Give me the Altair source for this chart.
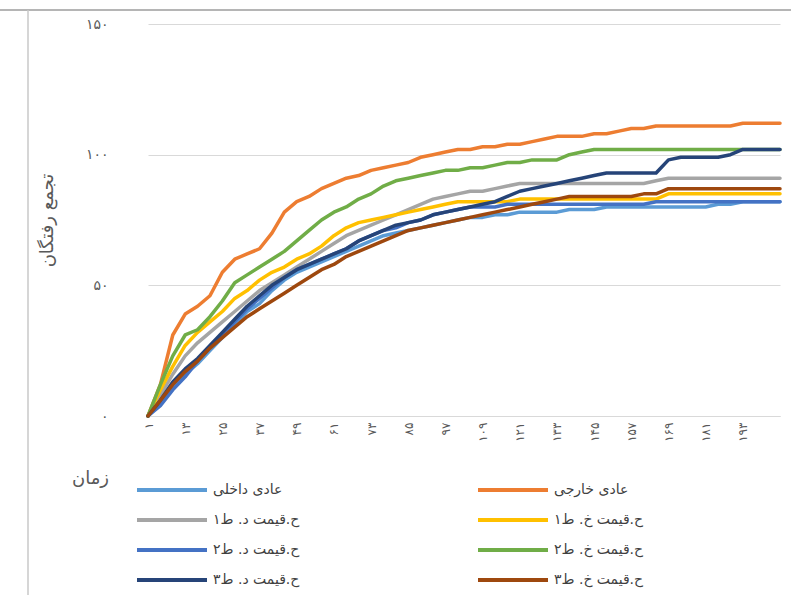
import json
import altair as alt
import pandas as pd

# time steps (every fourth step of the run)
steps = list(range(1, 206, 4))

series_names = [
    "عادی داخلی",
    "عادی خارجی",
    "ح.قیمت د. ط۱",
    "ح.قیمت خ. ط۱",
    "ح.قیمت د. ط۲",
    "ح.قیمت خ. ط۲",
    "ح.قیمت د. ط۳",
    "ح.قیمت خ. ط۳",
]
series_colors = ["#5B9BD5", "#ED7D31", "#A5A5A5", "#FFC000",
                 "#4472C4", "#70AD47", "#264478", "#9E480E"]

adi_dakheli = [0, 5, 11, 16, 20, 25, 30, 35, 40, 43, 48, 52, 55, 57, 59, 61, 63, 65,
               67, 69, 70, 71, 72, 73, 74, 75, 76, 76, 77, 77, 78, 78, 78, 78, 79, 79,
               79, 80, 80, 80, 80, 80, 80, 80, 80, 80, 81, 81, 82, 82, 82, 82]
adi_khareji = [0, 12, 31, 39, 42, 46, 55, 60, 62, 64, 70, 78, 82, 84, 87, 89, 91, 92,
               94, 95, 96, 97, 99, 100, 101, 102, 102, 103, 103, 104, 104, 105, 106, 107, 107, 107,
               108, 108, 109, 110, 110, 111, 111, 111, 111, 111, 111, 111, 112, 112, 112, 112]
gheymat_d1 = [0, 8, 16, 23, 28, 32, 36, 40, 44, 48, 51, 54, 57, 60, 63, 66, 69, 71,
              73, 75, 77, 79, 81, 83, 84, 85, 86, 86, 87, 88, 89, 89, 89, 89, 89, 89,
              89, 89, 89, 89, 89, 90, 91, 91, 91, 91, 91, 91, 91, 91, 91, 91]
gheymat_kh1 = [0, 10, 19, 27, 32, 36, 40, 45, 48, 52, 55, 57, 60, 62, 65, 69, 72, 74,
               75, 76, 77, 78, 79, 80, 81, 82, 82, 82, 82, 82, 83, 83, 83, 83, 83, 83,
               83, 83, 83, 83, 83, 83, 85, 85, 85, 85, 85, 85, 85, 85, 85, 85]
gheymat_d2 = [0, 4, 10, 15, 21, 26, 31, 36, 41, 45, 49, 53, 56, 58, 60, 62, 64, 67,
              69, 71, 72, 74, 75, 77, 78, 79, 80, 80, 80, 81, 81, 81, 81, 81, 81, 81,
              81, 81, 81, 81, 81, 82, 82, 82, 82, 82, 82, 82, 82, 82, 82, 82]
gheymat_kh2 = [0, 12, 23, 31, 33, 38, 44, 51, 54, 57, 60, 63, 67, 71, 75, 78, 80, 83,
               85, 88, 90, 91, 92, 93, 94, 94, 95, 95, 96, 97, 97, 98, 98, 98, 100, 101,
               102, 102, 102, 102, 102, 102, 102, 102, 102, 102, 102, 102, 102, 102, 102, 102]
gheymat_d3 = [0, 6, 13, 18, 22, 27, 32, 37, 42, 46, 50, 53, 56, 58, 60, 62, 64, 67,
              69, 71, 73, 74, 75, 77, 78, 79, 80, 81, 82, 84, 86, 87, 88, 89, 90, 91,
              92, 93, 93, 93, 93, 93, 98, 99, 99, 99, 99, 100, 102, 102, 102, 102]
gheymat_kh3 = [0, 6, 12, 17, 21, 26, 30, 34, 38, 41, 44, 47, 50, 53, 56, 58, 61, 63,
               65, 67, 69, 71, 72, 73, 74, 75, 76, 77, 78, 79, 80, 81, 82, 83, 84, 84,
               84, 84, 84, 84, 85, 85, 87, 87, 87, 87, 87, 87, 87, 87, 87, 87]

series_values = [adi_dakheli, adi_khareji, gheymat_d1, gheymat_kh1,
                 gheymat_d2, gheymat_kh2, gheymat_d3, gheymat_kh3]

frames = [pd.DataFrame({"t": steps, "v": vals, "s": name})
          for name, vals in zip(series_names, series_values)]
df = pd.concat(frames, ignore_index=True)

x_tick_values = [1, 13, 25, 37, 49, 61, 73, 85, 97, 109, 121, 133, 145, 157, 169, 181, 193]
x_tick_labels = ["۱", "۱۳", "۲۵", "۳۷", "۴۹", "۶۱", "۷۳", "۸۵", "۹۷", "۱۰۹", "۱۲۱",
                 "۱۳۳", "۱۴۵", "۱۵۷", "۱۶۹", "۱۸۱", "۱۹۳"]
y_tick_values = [0, 50, 100, 150]
y_tick_labels = ["۰", "۵۰", "۱۰۰", "۱۵۰"]


def label_expr(values, labels):
    return f"{json.dumps(labels, ensure_ascii=False)}[indexof({json.dumps(values)}, datum.value)]"


FONT = "DejaVu Sans"
TEXT = "#595959"

lines = alt.Chart(df).mark_line(strokeWidth=3.5, strokeJoin="round", strokeCap="round").encode(
    x=alt.X(
        "t:Q",
        scale=alt.Scale(domain=[1, 205], nice=False, zero=False),
        axis=alt.Axis(
            values=x_tick_values,
            labelExpr=label_expr(x_tick_values, x_tick_labels),
            labelAngle=270,
            labelFont=FONT, labelFontSize=12, labelColor=TEXT, labelPadding=6,
            ticks=False, grid=False, domainColor="#D9D9D9", domainWidth=1,
            title="زمان", titleFont=FONT, titleFontSize=18, titleFontWeight="normal",
            titleColor=TEXT, titleX=-58, titleY=62, titleAlign="center",
            titleBaseline="middle", titleAngle=0,
        ),
    ),
    y=alt.Y(
        "v:Q",
        scale=alt.Scale(domain=[0, 150], nice=False),
        axis=alt.Axis(
            values=y_tick_values,
            labelExpr=label_expr(y_tick_values, y_tick_labels),
            labelFont=FONT, labelFontSize=14, labelColor=TEXT, labelPadding=40,
            ticks=False, domain=False, grid=True, gridColor="#D9D9D9", gridWidth=1,
            title="تجمع رفتگان", titleFont=FONT, titleFontSize=18, titleFontWeight="normal",
            titleColor=TEXT, titleX=-101, titleY=196, titleAlign="center",
            titleBaseline="middle", titleAngle=270,
        ),
    ),
    color=alt.Color(
        "s:N",
        scale=alt.Scale(domain=series_names, range=series_colors),
        legend=alt.Legend(
            orient="none", direction="horizontal", legendX=-13, legendY=458,
            columns=2, title=None,
            symbolType="stroke", symbolSize=4900, symbolStrokeWidth=4,
            clipHeight=16, rowPadding=14, columnPadding=173, gridAlign="all",
            labelFont=FONT, labelFontSize=14, labelColor="#404040", labelOffset=4,
            labelLimit=300,
        ),
    ),
)

frame_top = alt.Chart(pd.DataFrame({"k": [0]})).mark_rule(color="#B5B5B5", strokeWidth=2).encode(
    x=alt.value(-148), x2=alt.value(643), y=alt.value(-14)
)
frame_left = alt.Chart(pd.DataFrame({"k": [0]})).mark_rule(color="#C8C8C8", strokeWidth=1.5).encode(
    x=alt.value(-120), y=alt.value(-14), y2=alt.value(571)
)

chart = alt.layer(frame_top, frame_left, lines).properties(
    width=632,
    height=392,
    autosize=alt.AutoSizeParams(type="none"),
    padding={"left": 148, "top": 24, "right": 11, "bottom": 179},
    background="white",
).configure_view(stroke=None)

chart.save("out.html", embed_options={"renderer": "svg", "actions": False})
